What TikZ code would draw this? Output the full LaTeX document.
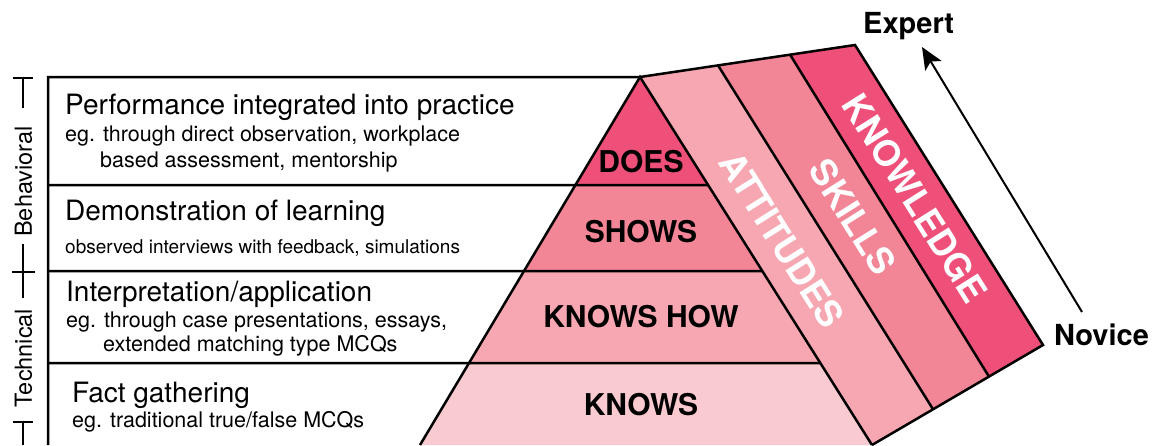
\documentclass[tikz,border=0pt]{standalone}
\usepackage{fontspec}
\setmainfont{TeX Gyre Heros}
\usetikzlibrary{calc,arrows.meta}
\definecolor{pkdark}{RGB}{238,80,122}
\definecolor{pkmid}{RGB}{242,133,150}
\definecolor{pklight}{RGB}{246,167,177}
\definecolor{pkpale}{RGB}{249,203,208}
\begin{document}
\begin{tikzpicture}[x=1pt,y=-1pt,line join=miter,
  edge/.style={line width=2.5pt},
  head/.style={anchor=base west,inner sep=0pt,font=\fontsize{28}{32}\selectfont},
  sub/.style={anchor=base west,inner sep=0pt,font=\fontsize{21.5}{25}\selectfont},
  level/.style={inner sep=0pt,font=\bfseries\fontsize{30}{34}\selectfont},
  band/.style={inner sep=0pt,text=white,rotate=-57.8,font=\bfseries\fontsize{36}{40}\selectfont},
  axislabel/.style={inner sep=0pt,rotate=90,font=\fontsize{23.5}{27}\selectfont},
  pole/.style={anchor=base west,inner sep=0pt,font=\bfseries\fontsize{29}{33}\selectfont}]
\useasboundingbox (0,0) rectangle (1164,445);

% pyramid outline points
\coordinate (A) at (640,77);
\coordinate (BL) at (420,445);
\coordinate (BR) at (872,445);
\coordinate (L1) at ($(A)!0.2935!(BL)$);
\coordinate (R1) at ($(A)!0.2935!(BR)$);
\coordinate (L2) at ($(A)!0.5272!(BL)$);
\coordinate (R2) at ($(A)!0.5272!(BR)$);
\coordinate (L3) at ($(A)!0.7772!(BL)$);
\coordinate (R3) at ($(A)!0.7772!(BR)$);

% slanted side bands
\coordinate (P4) at (855,45);
\coordinate (Q4) at (1043,345);
\coordinate (P2) at ($(A)!0.363!(P4)$);
\coordinate (P3) at ($(A)!0.698!(P4)$);
\coordinate (Q2) at ($(BR)!0.357!(Q4)$);
\coordinate (Q3) at ($(BR)!0.684!(Q4)$);

% left frame
\coordinate (F0) at (48,77);
\coordinate (Fb) at (48,445);
\coordinate (F1) at (48,185);
\coordinate (F2) at (48,271);
\coordinate (F3) at (48,363);

% fills
\fill[pkdark]  (A) -- (L1) -- (R1) -- cycle;
\fill[pkmid]   (L1) -- (L2) -- (R2) -- (R1) -- cycle;
\fill[pklight] (L2) -- (L3) -- (R3) -- (R2) -- cycle;
\fill[pkpale]  (L3) -- (BL) -- (BR) -- (R3) -- cycle;
\fill[pklight] (A) -- (P2) -- (Q2) -- (BR) -- cycle;
\fill[pkmid]   (P2) -- (P3) -- (Q3) -- (Q2) -- cycle;
\fill[pkdark]  (P3) -- (P4) -- (Q4) -- (Q3) -- cycle;

% outlines
\draw[edge] (Fb) -- (F0) -- (A) -- (P4) -- (Q4) -- (BR);
\draw[edge] (BL) -- (A) -- (BR);
\draw[edge] (P2) -- (Q2);
\draw[edge] (P3) -- (Q3);
\draw[edge] (F1) -- (R1);
\draw[edge] (F2) -- (R2);
\draw[edge] (F3) -- (R3);

% pyramid levels
\node[level] (does)  at (641,162) {DOES};
\node[level] (shows) at (641,232) {SHOWS};
\node[level] (kh)    at (641,317) {KNOWS HOW};
\node[level] (knows) at (641,405) {KNOWS};

% band labels
\node[band] (att) at (782,240) {ATTITUDES};
\node[band] (ski) at (853,217) {SKILLS};
\node[band] (kno) at (915,198) {KNOWLEDGE};

% descriptions
\node[head] (t1) at (65,114) {Performance integrated into practice};
\node[sub]  (t1a) at (65,141) {eg. through direct observation, workplace};
\node[sub]  (t1b) at (100,167) {based assessment, mentorship};
\node[head] (t2) at (65,220) {Demonstration of learning};
\node[sub,font=\fontsize{19}{22}\selectfont] (t2a) at (65,253) {observed interviews with feedback, simulations};
\node[head] (t3) at (66,301) {Interpretation/application};
\node[sub]  (t3a) at (66,327) {eg. through case presentations, essays,};
\node[sub]  (t3b) at (103,351) {extended matching type MCQs};
\node[head] (t4) at (72,402) {Fact gathering};
\node[sub]  (t4a) at (72,427) {eg. traditional true/false MCQs};

% side scale
\coordinate (s0) at (23,78);
\coordinate (s1) at (23,108);
\coordinate (s2) at (23,244);
\coordinate (s3) at (23,298);
\coordinate (s4) at (23,422);
\coordinate (s5) at (23,445);
\draw[line width=2pt] (s0) -- (s1);
\draw[line width=2pt] (s2) -- (s3);
\draw[line width=2pt] (s4) -- (s5);
\draw[line width=2pt] (13,78) -- (33,78);
\draw[line width=2pt] (12,272) -- (35,272);
\draw[line width=2pt] (13,422) -- (33,422);
\node[axislabel] (beh) at (23.5,181.5) {Behavioral};
\node[axislabel] (tec) at (23.5,358) {Technical};

% novice to expert arrow
\node[pole] (expert) at (863,33) {Expert};
\node[pole] (novice) at (1054,345) {Novice};
\coordinate (nv) at (1082,312);
\coordinate (ex) at (922,47);
\draw[line width=2pt,-{Stealth[length=22pt,width=19pt,inset=5pt]}] (nv) -- (ex);
\end{tikzpicture}
\end{document}
